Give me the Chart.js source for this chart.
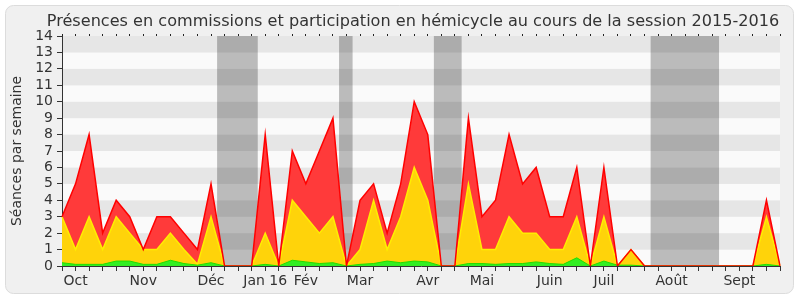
<!DOCTYPE html>
<html>
<head>
<meta charset="utf-8">
<script src="https://cdn.jsdelivr.net/npm/chart.js@4"></script>
<style>
  html, body { margin: 0; padding: 0; background: #fff; }
</style>
</head>
<body>
<canvas id="myChart" width="800" height="300"></canvas>
<script>
// one entry per week, month name on the first week shown
const weeks = ['', 'Oct', '', '', '', '', 'Nov', '', '', '', '', 'Déc', '', '', '', 'Jan 16', '', '', 'Fév', '', '', '', 'Mar', '', '', '', '', 'Avr', '', '', '', 'Mai', '', '', '', '', 'Juin', '', '', '', 'Juil', '', '', '', '', 'Août', '', '', '', '', 'Sept', '', '', ''];

// séances par semaine (hauteur du haut de chaque couche)
const totalValues      = [3, 5, 8, 2, 4, 3, 1, 3, 3, 2, 1, 5, 0, 0, 0, 8, 0, 7, 5, 7, 9, 0, 4, 5, 2, 5, 10, 8, 0, 0, 9, 3, 4, 8, 5, 6, 3, 3, 6, 0, 6, 0, 1, 0, 0, 0, 0, 0, 0, 0, 0, 0, 4, 0];
const commissionValues = [3, 1, 3, 1, 3, 2, 1, 1, 2, 1, 0.1, 3, 0, 0, 0, 2, 0, 4, 3, 2, 3, 0, 1, 4, 1, 3, 6, 4, 0, 0, 5, 1, 1, 3, 2, 2, 1, 1, 3, 0, 3, 0, 1, 0, 0, 0, 0, 0, 0, 0, 0, 0, 3, 0];
const greenValues      = [0.2, 0.1, 0.1, 0.1, 0.3, 0.3, 0.1, 0.1, 0.35, 0.15, 0.05, 0.2, 0, 0, 0, 0.1, 0, 0.35, 0.25, 0.15, 0.2, 0, 0.1, 0.15, 0.3, 0.2, 0.3, 0.25, 0, 0, 0.15, 0.15, 0.1, 0.15, 0.15, 0.25, 0.15, 0.1, 0.5, 0, 0.3, 0.05, 0.05, 0, 0, 0, 0, 0, 0, 0, 0, 0, 0.1, 0];

// vacances parlementaires, en semaines (début, fin)
const holidays = [[11.45, 14.45], [20.45, 21.45], [27.45, 29.5], [43.45, 48.5]];

const titleText = 'Présences en commissions et participation en hémicycle au cours de la session 2015-2016';

const backdrop = {
  id: 'backdrop',
  beforeDraw(chart) {
    const ctx = chart.ctx;
    const a = chart.chartArea;
    const y = chart.scales.y;
    const x = chart.scales.x;
    ctx.save();
    ctx.fillStyle = '#fff';
    ctx.fillRect(0, 0, chart.width, chart.height);
    ctx.beginPath();
    ctx.roundRect(5.5, 5.5, 788, 288, 8);
    ctx.fillStyle = '#f0f0f0';
    ctx.fill();
    ctx.strokeStyle = '#dcdcdc';
    ctx.lineWidth = 1;
    ctx.stroke();
    // bandes horizontales
    for (let v = 0; v < 14; v++) {
      ctx.fillStyle = (v % 2 === 1) ? '#e6e6e6' : '#fafafa';
      const top = y.getPixelForValue(v + 1);
      const bot = y.getPixelForValue(v);
      ctx.fillRect(a.left, top, a.right - a.left, bot - top);
    }
    // vacances
    ctx.fillStyle = 'rgba(0,0,0,0.25)';
    holidays.forEach(h => {
      const l = x.getPixelForValue(h[0]);
      const r = x.getPixelForValue(h[1]);
      ctx.fillRect(l, a.top, r - l, a.bottom - a.top);
    });
    ctx.restore();
  },
  afterDraw(chart) {
    const ctx = chart.ctx;
    ctx.save();
    ctx.font = '16.1px "DejaVu Sans"';
    ctx.fillStyle = '#333';
    ctx.textAlign = 'center';
    ctx.fillText(titleText, 413, 26);
    ctx.restore();
  }
};

new Chart('myChart', {
  type: 'line',
  data: {
    labels: weeks,
    datasets: [
      { data: totalValues, fill: false, borderColor: '#ff0000', borderWidth: 1.5, order: 0 },
      { data: greenValues, fill: 'origin', backgroundColor: '#33ee22', borderColor: '#22dd00', borderWidth: 1, order: 1 },
      { data: commissionValues, fill: 'origin', backgroundColor: '#ffd30a', borderColor: '#ffee00', borderWidth: 1.5, order: 2 },
      { data: totalValues, fill: 'origin', backgroundColor: '#ff3a3a', borderWidth: 0, order: 3 }
    ]
  },
  options: {
    responsive: false,
    animation: false,
    layout: { padding: { left: 5, right: 20, top: 0, bottom: 0 } },
    elements: { point: { radius: 0 }, line: { tension: 0 } },
    plugins: { legend: { display: false }, tooltip: { enabled: false } },
    scales: {
      x: {
        offset: false,
        grid: { drawOnChartArea: false, tickLength: 5, color: '#333' },
        border: { color: '#333' },
        ticks: { autoSkip: false, maxRotation: 0, padding: 2, color: '#333', font: { family: 'DejaVu Sans', size: 14 } },
        afterFit: s => { s.height = 34; }
      },
      x2: {
        type: 'category',
        position: 'top',
        offset: false,
        grid: { drawOnChartArea: false, tickLength: 2, color: '#222' },
        border: { display: false },
        ticks: { display: false },
        afterFit: s => { s.height = 36; }
      },
      y: {
        min: 0,
        max: 14,
        grid: { drawOnChartArea: false, tickLength: 5, color: '#333' },
        border: { color: '#333' },
        ticks: { stepSize: 1, autoSkip: false, padding: 4, color: '#333', font: { family: 'DejaVu Sans', size: 14 } },
        title: { display: true, text: 'Séances par semaine', color: '#333', font: { family: 'DejaVu Sans', size: 14 }, padding: { top: 4, bottom: 0 } },
        afterFit: s => { s.width = 57; }
      }
    }
  },
  plugins: [backdrop]
});
</script>
</body>
</html>
